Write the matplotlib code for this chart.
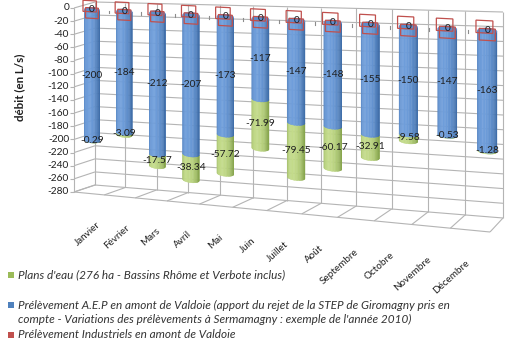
import numpy as np
import matplotlib
matplotlib.use("Agg")
import matplotlib.pyplot as plt
import matplotlib.transforms as mtransforms
from matplotlib.patches import Polygon, Rectangle
from matplotlib.colors import to_rgb

# ---- data -------------------------------------------------------------
months = ["Janvier", "Février", "Mars", "Avril", "Mai", "Juin", "Juillet",
          "Août", "Septembre", "Octobre", "Novembre", "Décembre"]
industriels = [0, 0, 0, 0, 0, 0, 0, 0, 0, 0, 0, 0]
aep = [-200, -184, -212, -207, -173, -117, -147, -148, -155, -150, -147, -163]
plans_eau = [-0.29, -3.09, -17.57, -38.34, -57.72, -71.99, -79.45, -60.17,
             -32.91, -9.58, -0.53, -1.28]
yticks = list(range(0, -281, -20))
legend_labels = [
    "Plans d'eau (276 ha - Bassins Rhôme et Verbote inclus)",
    "Prélèvement A.E.P en amont de Valdoie (apport du rejet de la STEP de Giromagny pris en\n"
    "compte - Variations des prélèvements à Sermamagny : exemple de l'année 2010)",
    "Prélèvement Industriels en amont de Valdoie",
]
ylabel = "débit (en L/s)"

FONT = ["Lato", "DejaVu Sans"]
plt.rcParams["font.family"] = FONT

GREEN = "#9bbb59"
BLUE = "#4f81bd"
RED = "#c0504d"
GRID = "#b4b4b4"
TXT = "#1e1e1e"


class PlaneProjection(mtransforms.Transform):
    """Perspective mapping of a vertical plane (category, value) to pixels."""
    input_dims = 2
    output_dims = 2
    is_separable = False

    def __init__(self, left, right, top_l, bot_l, top_r, bot_r,
                 xspan=(-0.5, 11.5), vspan=(0, -280)):
        super().__init__()
        self.x0, self.x1 = xspan
        self.vtop, self.vbot = vspan
        depth = self.vtop - self.vbot
        self.sl = (bot_l - top_l) / depth
        sr = (bot_r - top_r) / depth
        self.w1 = self.sl / sr
        self.left = left
        self.top_l = top_l
        self.p1 = right * self.w1 - left
        self.q1 = top_r * self.w1 - top_l

    def transform_non_affine(self, values):
        values = np.asarray(values, dtype=float)
        pts = values.reshape(-1, 2)
        u = (pts[:, 0] - self.x0) / (self.x1 - self.x0)
        w = 1 + (self.w1 - 1) * u
        px = (self.left + self.p1 * u) / w
        py = (self.top_l + self.q1 * u + self.sl * (self.vtop - pts[:, 1])) / w
        return np.column_stack([px, py]).reshape(values.shape)


fig = plt.figure(figsize=(5.14, 3.53), dpi=100)
ax = fig.add_axes([0, 0, 1, 1])
ax.set_xlim(0, 514)
ax.set_ylim(353, 0)
ax.axis("off")

front = PlaneProjection(74, 490, 8, 192, 19, 232)
bars = PlaneProjection(76, 507.5, 9, 190.7, 32, 238)
back = PlaneProjection(95, 503, 2, 185, 12, 218)
T_front = front + ax.transData
T_bars = bars + ax.transData
T_back = back + ax.transData

vmin, vmax = yticks[-1], yticks[0]
n = len(months)
bounds = np.arange(n + 1) - 0.5

# ---- walls and floor --------------------------------------------------
lkw = dict(color=GRID, lw=0.8, solid_capstyle="butt", zorder=1)
for v in yticks:
    ax.plot([bounds[0], bounds[-1]], [v, v], transform=T_back, **lkw)
    p_f = front.transform([bounds[0], v])
    p_b = back.transform([bounds[0], v])
    ax.plot([p_f[0], p_b[0]], [p_f[1], p_b[1]], **lkw)
    ax.plot([p_f[0] - 4, p_f[0]], [p_f[1], p_f[1]], **lkw)
for b in bounds:
    ax.plot([b, b], [vmax, vmin], transform=T_back, **lkw)
    p_f = front.transform([b, vmin])
    p_b = back.transform([b, vmin])
    ax.plot([p_f[0], p_b[0]], [p_f[1], p_b[1]], **lkw)
ax.plot([bounds[0], bounds[-1]], [vmin, vmin], transform=T_front, **lkw)
ax.plot([bounds[0], bounds[0]], [vmax, vmin], transform=T_front, **lkw)

# category axis ticks at the zero level
for b in bounds[1:-1]:
    ax.plot([b + 0.02, b + 0.02], [0, -4], transform=T_bars, color="#8c8c8c",
            lw=0.8, zorder=2)

# ---- cylinders --------------------------------------------------------
HW = 0.24      # half width of a column (category units)
E = 4.0        # ellipse depth (value units)
NSTRIP = 18


def shade(base_dark, base_light, s):
    inten = 0.30 + 0.70 * max(0.0, np.cos(s - 1.15))
    d = np.array(to_rgb(base_dark))
    l = np.array(to_rgb(base_light))
    return tuple(d + (l - d) * inten)


def cylinder(xc, vtop, vbot, dark, light, cap=None, z=3):
    ss = np.linspace(0, np.pi, NSTRIP + 1)
    for i in range(NSTRIP):
        s = np.linspace(ss[i], ss[i + 1], 4)
        xs = xc - HW * np.cos(s)
        top = np.column_stack([xs, vtop - E * np.sin(s)])
        bot = np.column_stack([xs, vbot - E * np.sin(s)])[::-1]
        c = shade(dark, light, 0.5 * (ss[i] + ss[i + 1]))
        ax.add_patch(Polygon(np.vstack([top, bot]), closed=True,
                             facecolor=c, edgecolor=c, lw=0.3,
                             transform=T_bars, zorder=z))
    if cap is not None:
        t = np.linspace(0, 2 * np.pi, 60)
        ax.add_patch(Polygon(np.column_stack([xc + HW * np.cos(t),
                                              vtop + E * np.sin(t)]),
                             closed=True, facecolor=cap, edgecolor=cap, lw=0.3,
                             transform=T_bars, zorder=z + 0.1))


for i in range(n):
    top_red = industriels[i]
    blue_top = top_red
    blue_bot = blue_top + aep[i]
    green_bot = blue_bot + plans_eau[i]
    cylinder(i, blue_bot, green_bot, "#6e8f33", "#c3db8a", z=3)
    cylinder(i, blue_top, blue_bot, "#2b5a95", "#6f9edb", cap="#5d8ccc", z=4)

    # zero-height industrial series
    for (x0, x1, v0, v1) in [(-0.28, 0.14, 14, -3), (-0.20, 0.20, 3, -13)]:
        ax.add_patch(Polygon([[i + x0, top_red + v0], [i + x1, top_red + v0],
                              [i + x1, top_red + v1], [i + x0, top_red + v1]],
                             closed=True, fill=False, edgecolor=RED, lw=0.9,
                             transform=T_bars, zorder=6))

    lab = dict(ha="center", va="center", fontsize=7.3, color=TXT,
               transform=T_bars, zorder=8)
    ax.text(i, top_red, f"{industriels[i]:g}", **lab)
    ax.text(i, (blue_top + blue_bot) / 2, f"{aep[i]:g}", **lab)
    ax.text(i, (blue_bot + green_bot) / 2, f"{plans_eau[i]:g}", **lab)

# ---- axis labels ------------------------------------------------------
for v in yticks:
    p = front.transform([bounds[0], v])
    ax.text(p[0] - 5, p[1], f"{v}", ha="right", va="center", fontsize=7.3,
            color=TXT)

for i, m in enumerate(months):
    p = front.transform([i, vmin])
    u = i / (n - 1)
    ax.text(p[0] + 10 - 12 * u, p[1] + 30 + 2 * u, m, rotation=42,
            rotation_mode="anchor", ha="right", va="center", fontsize=7.1,
            color=TXT)

ax.text(20, 87, ylabel, rotation=90, ha="center", va="center", fontsize=8.3,
        fontweight="bold", color=TXT)

# ---- legend -----------------------------------------------------------
leg_colors = [GREEN, BLUE, RED]
leg_y = [275, 305, 335]
for col, y, text in zip(leg_colors, leg_y, legend_labels):
    ax.add_patch(Rectangle((8, y - 3), 5.5, 5.5, facecolor=col, edgecolor="none"))
    for k, line in enumerate(text.split("\n")):
        ax.text(18, y + 14.5 * k, line, ha="left", va="center", fontsize=8.5,
                style="italic", color="#333333")

fig.savefig("out.png", dpi=100)
